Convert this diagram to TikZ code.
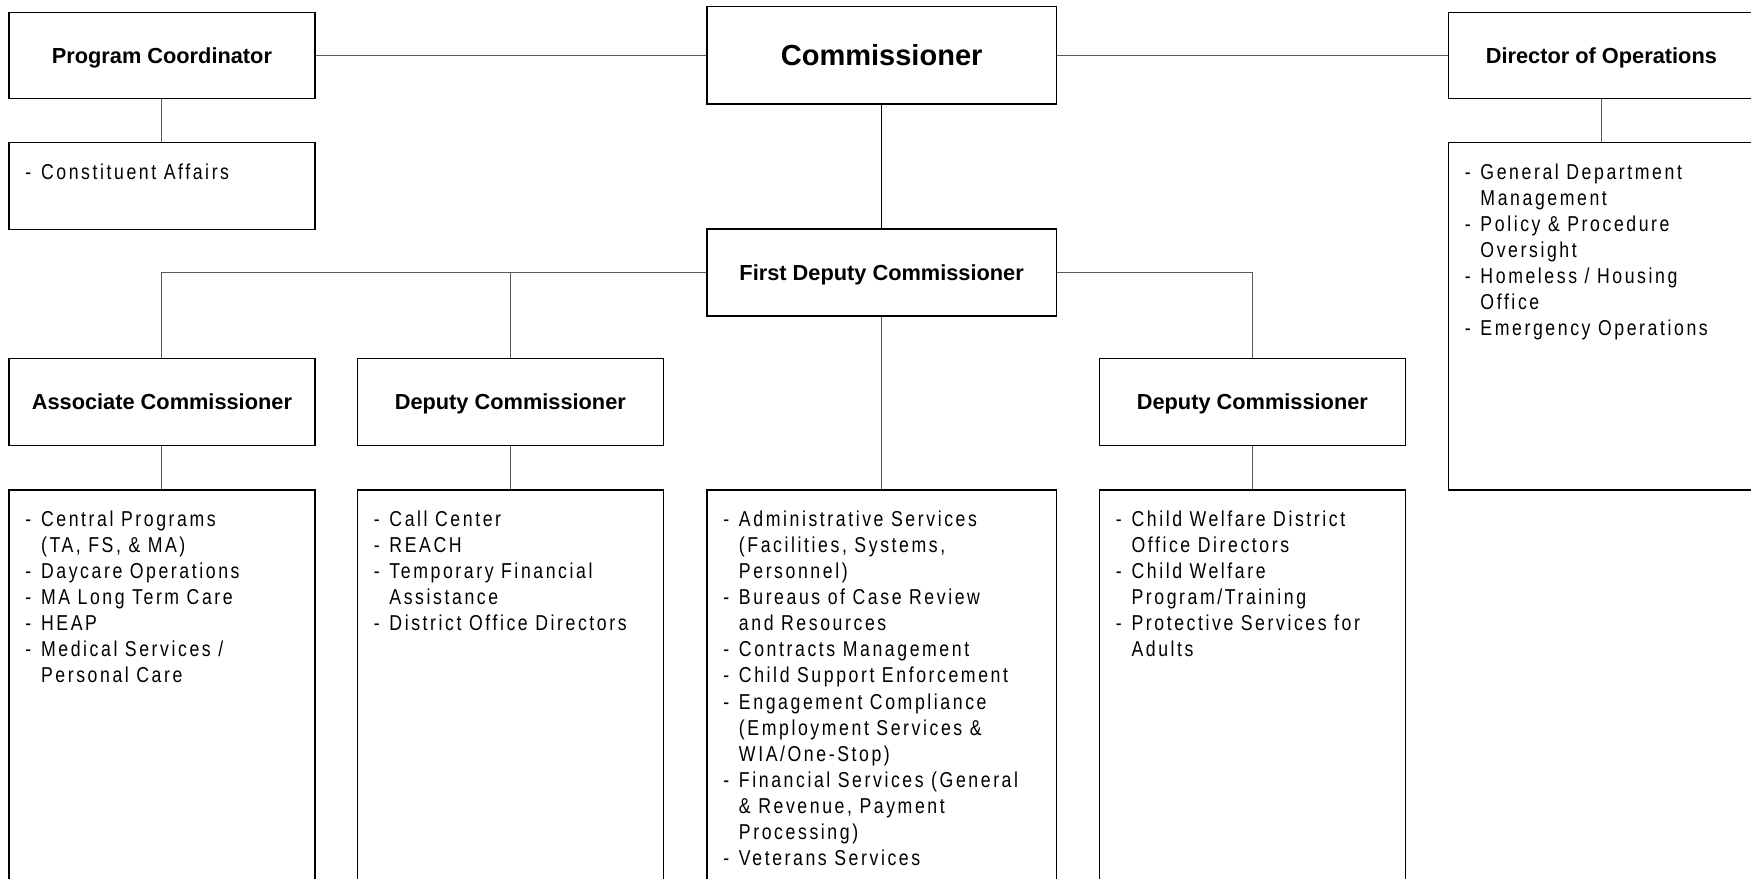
\documentclass[tikz,border=0pt]{standalone}
\usepackage{fontspec}
\setmainfont{Liberation Sans}
\newfontfamily\bodyfont[FakeStretch=0.82,LetterSpace=12]{Liberation Sans}
\newcommand\hind{\hspace*{7pt}}
\newcommand\dsh{\makebox[7pt][l]{-}}
\begin{document}
\begin{tikzpicture}[x=0.5pt,y=-0.5pt,
  box/.style={draw=black,line width=0.65pt,inner sep=0pt,minimum width=137pt},
  titlebox/.style={box,minimum height=38.5pt,text height=7pt,text depth=0pt,font=\bfseries\fontsize{9.75}{11}\selectfont},
  bigbox/.style={box,minimum width=156.5pt,text height=9.3pt,text depth=0pt,font=\bfseries\fontsize{13}{15}\selectfont},
  listbox/.style={box,anchor=north,minimum height=210pt},
  listtext/.style={anchor=north west,inner sep=0pt,align=left,font={\bodyfont\fontsize{9.65}{11.68}\selectfont}},
  conn/.style={draw=black!65,line width=0.45pt},
  mainconn/.style={draw=black,line width=0.65pt},
]
\useasboundingbox (0,0) rectangle (1568,787);
\clip (0,0) rectangle (1568,787);

% top row
\node[titlebox] (pc) at (145,49.5) {Program Coordinator};
\node[bigbox,minimum height=43.5pt] (com) at (789.5,49.5) {Commissioner};
\node[titlebox] (dir) at (1434,49.5) {Director of Operations};

\node[box,anchor=north,minimum height=39pt] (ca) at (145,127) {};
\node[listtext] (cat) at ([xshift=7.5pt,yshift=-9.5pt]ca.north west) {\dsh Constituent Affairs};

\node[box,anchor=north,minimum height=155.5pt] (dl) at (1434,127) {};
\node[listtext] (dlt) at ([xshift=7.5pt,yshift=-9.5pt]dl.north west) {%
\dsh General Department\\ \hind Management\\
\dsh Policy \& Procedure\\ \hind Oversight\\
\dsh Homeless / Housing\\ \hind Office\\
\dsh Emergency Operations};

% first deputy
\node[bigbox,minimum height=39pt,text height=7pt,font=\bfseries\fontsize{9.75}{11}\selectfont] (fdc) at (789.5,244) {First Deputy Commissioner};

% second row
\node[titlebox,minimum height=39pt] (ac) at (145,360) {Associate Commissioner};
\node[titlebox,minimum height=39pt] (d1) at (457,360) {Deputy Commissioner};
\node[titlebox,minimum height=39pt] (d2) at (1121.5,360) {Deputy Commissioner};

% list boxes
\node[listbox] (al) at (145,438) {};
\node[listbox] (d1l) at (457,438) {};
\node[listbox,minimum width=156.5pt] (fl) at (789.5,438) {};
\node[listbox] (d2l) at (1121.5,438) {};

\node[listtext] (alt) at ([xshift=7.5pt,yshift=-9.5pt]al.north west) {%
\dsh Central Programs\\ \hind (TA, FS, \& MA)\\
\dsh Daycare Operations\\
\dsh MA Long Term Care\\
\dsh HEAP\\
\dsh Medical Services /\\ \hind Personal Care};

\node[listtext] (d1lt) at ([xshift=7.5pt,yshift=-9.5pt]d1l.north west) {%
\dsh Call Center\\
\dsh REACH\\
\dsh Temporary Financial\\ \hind Assistance\\
\dsh District Office Directors};

\node[listtext] (flt) at ([xshift=7.5pt,yshift=-9.5pt]fl.north west) {%
\dsh Administrative Services\\ \hind (Facilities, Systems,\\ \hind Personnel)\\
\dsh Bureaus of Case Review\\ \hind and Resources\\
\dsh Contracts Management\\
\dsh Child Support Enforcement\\
\dsh Engagement Compliance\\ \hind (Employment Services \&\\ \hind WIA/One-Stop)\\
\dsh Financial Services (General\\ \hind \& Revenue, Payment\\ \hind Processing)\\
\dsh Veterans Services};

\node[listtext] (d2lt) at ([xshift=7.5pt,yshift=-9.5pt]d2l.north west) {%
\dsh Child Welfare District\\ \hind Office Directors\\
\dsh Child Welfare\\ \hind Program/Training\\
\dsh Protective Services for\\ \hind Adults};

% connectors
\draw[conn] (pc.east) -- (com.west);
\draw[conn] (com.east) -- (dir.west);
\draw[conn] (pc.south) -- (ca.north);
\draw[conn] (dir.south) -- (dl.north);
\draw[mainconn] (com.south) -- (fdc.north);
\draw[conn] (fdc.west) -| (ac.north);
\draw[conn] (fdc.west -| d1.north) -- (d1.north);
\draw[conn] (fdc.east) -| (d2.north);
\draw[conn] (fdc.south) -- (fl.north);
\draw[conn] (ac.south) -- (al.north);
\draw[conn] (d1.south) -- (d1l.north);
\draw[conn] (d2.south) -- (d2l.north);
\end{tikzpicture}
\end{document}
